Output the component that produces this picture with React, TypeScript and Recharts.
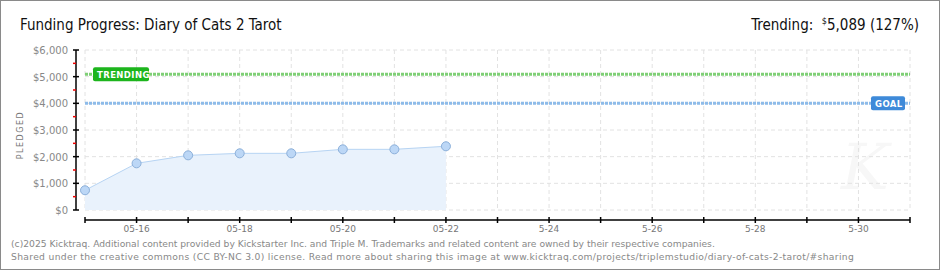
import { AreaChart, Area, XAxis, YAxis, CartesianGrid, ReferenceLine } from "recharts";

const days = ["05-15", "05-16", "05-17", "05-18", "05-19", "05-20", "05-21", "05-22"];
const pledged = [740, 1750, 2050, 2125, 2125, 2275, 2275, 2390];
const xTickLabels = ["", "05-16", "", "05-18", "", "05-20", "", "05-22", "", "5-24", "", "5-26", "", "5-28", "", "5-30", ""];
const yTicks = [0, 500, 1000, 1500, 2000, 2500, 3000, 3500, 4000, 4500, 5000, 5500, 6000];
const yGrid = [0, 1000, 2000, 3000, 4000, 5000, 6000];
const goal = 4000;
const trending = 5089;

const data = days.map((d, i) => ({ day: i, label: d, pledged: pledged[i] }));

const FONT = "'DejaVu Sans', Verdana, sans-serif";
const TITLE_FONT = "'DejaVu Sans Condensed', 'Roboto', sans-serif";

function XTick(props: any) {
  const { x, y, payload } = props;
  const label = xTickLabels[payload.value] || "";
  return (
    <g>
      <line x1={x} x2={x} y1={y + 7} y2={y + 13} stroke="#000" strokeWidth={1.5} />
      {label && (
        <text x={x} y={y + 22} textAnchor="middle" fontSize={9} fill="#777" fontFamily={FONT}>
          {label}
        </text>
      )}
    </g>
  );
}

function YTick(props: any) {
  const { x, y, payload } = props;
  const v = payload.value as number;
  if (v % 1000 !== 0) {
    return <line x1={x - 12} x2={x - 9} y1={y} y2={y} stroke="#e00" strokeWidth={1.5} />;
  }
  return (
    <g>
      <line x1={x - 12} x2={x - 6} y1={y} y2={y} stroke="#000" strokeWidth={1.5} />
      <text x={x - 17} y={y + 4} textAnchor="end" fontSize={10} fill="#888" fontFamily={FONT}>
        {"$" + v.toLocaleString("en-US")}
      </text>
    </g>
  );
}

function LineTag(props: any) {
  const { viewBox, text, color, side } = props;
  const w = side === "left" ? 56 : 34;
  const bx = side === "left" ? viewBox.x + 8 : viewBox.x + viewBox.width - 39;
  const by = viewBox.y - 7;
  return (
    <g>
      <rect x={bx} y={by} width={w} height={14} rx={2} fill={color} />
      <text x={bx + 4} y={by + 10.5} fontSize={8.5} fontWeight="bold" fill="#fff" fontFamily={FONT} letterSpacing={0.4}>
        {text}
      </text>
    </g>
  );
}

const footStyle = {
  position: "absolute" as const,
  left: 10,
  fontFamily: FONT,
  fontSize: 9.2,
  lineHeight: "13px",
  color: "#888",
  whiteSpace: "nowrap" as const,
};

export default function App() {
  return (
    <div
      style={{
        position: "absolute",
        left: 0,
        top: 0,
        width: 940,
        height: 270,
        boxSizing: "border-box",
        border: "1px solid #8a8a8a",
        background: "#fff",
        overflow: "hidden",
      }}
    >
      <div style={{ position: "absolute", left: 19, top: 15, fontFamily: TITLE_FONT, fontSize: 15, color: "#111" }}>
        Funding Progress: Diary of Cats 2 Tarot
      </div>
      <div style={{ position: "absolute", right: 20, top: 15, fontFamily: TITLE_FONT, fontSize: 15, color: "#111" }}>
        Trending:&nbsp;&nbsp;<sup style={{ fontSize: 9 }}>$</sup>5,089 (127%)
      </div>
      <div
        style={{
          position: "absolute",
          left: 19,
          top: 134,
          transform: "translate(-50%, -50%) rotate(-90deg)",
          fontFamily: FONT,
          fontSize: 8,
          letterSpacing: 1.5,
          color: "#777",
        }}
      >
        PLEDGED
      </div>
      <div
        style={{
          position: "absolute",
          left: 840,
          top: 134,
          fontFamily: "'DejaVu Serif', serif",
          fontStyle: "italic",
          fontSize: 64,
          color: "#f7f7f7",
          lineHeight: 1,
        }}
      >
        K
      </div>
      <div style={{ position: "absolute", left: -1, top: -1 }}>
        <AreaChart width={940} height={270} data={data} margin={{ top: 50, right: 30, bottom: 0, left: 0 }}>
          <CartesianGrid stroke="#e2e2e2" strokeDasharray="4 3" horizontalValues={yGrid} />
          <XAxis
            dataKey="day"
            type="number"
            domain={[0, 16]}
            ticks={xTickLabels.map((_, i) => i)}
            interval={0}
            tickSize={0}
            tickMargin={0}
            height={60}
            axisLine={{ stroke: "#000", strokeWidth: 1.5, transform: "translate(0,10)" }}
            tickLine={false}
            tick={<XTick />}
          />
          <YAxis
            domain={[0, 6000]}
            ticks={yTicks}
            interval={0}
            width={85}
            tickSize={0}
            tickMargin={0}
            axisLine={{ stroke: "#000", strokeWidth: 1.5, transform: "translate(-9,0)" }}
            tickLine={false}
            tick={<YTick />}
          />
          <ReferenceLine
            y={trending}
            stroke="#7fcf76"
            strokeWidth={3}
            strokeDasharray="3 1"
            label={<LineTag text="TRENDING" color="#1db51d" side="left" />}
          />
          <ReferenceLine
            y={goal}
            stroke="#8dbbe9"
            strokeWidth={3}
            strokeDasharray="3 1"
            label={<LineTag text="GOAL" color="#3e8ad9" side="right" />}
          />
          <Area
            type="linear"
            dataKey="pledged"
            stroke="#b7d4f3"
            strokeWidth={1}
            fill="#e9f2fc"
            fillOpacity={1}
            dot={{ r: 4.5, fill: "#bcd7f6", stroke: "#8cb0da", strokeWidth: 1, fillOpacity: 1 }}
            isAnimationActive={false}
          />
        </AreaChart>
      </div>
      <div style={{ ...footStyle, top: 236 }}>
        (c)2025 Kicktraq. Additional content provided by Kickstarter Inc. and Triple M. Trademarks and related content are owned by their respective companies.
      </div>
      <div style={{ ...footStyle, top: 249, letterSpacing: 0.32 }}>
        Shared under the creative commons (CC BY-NC 3.0) license. Read more about sharing this image at www.kicktraq.com/projects/triplemstudio/diary-of-cats-2-tarot/#sharing
      </div>
    </div>
  );
}
